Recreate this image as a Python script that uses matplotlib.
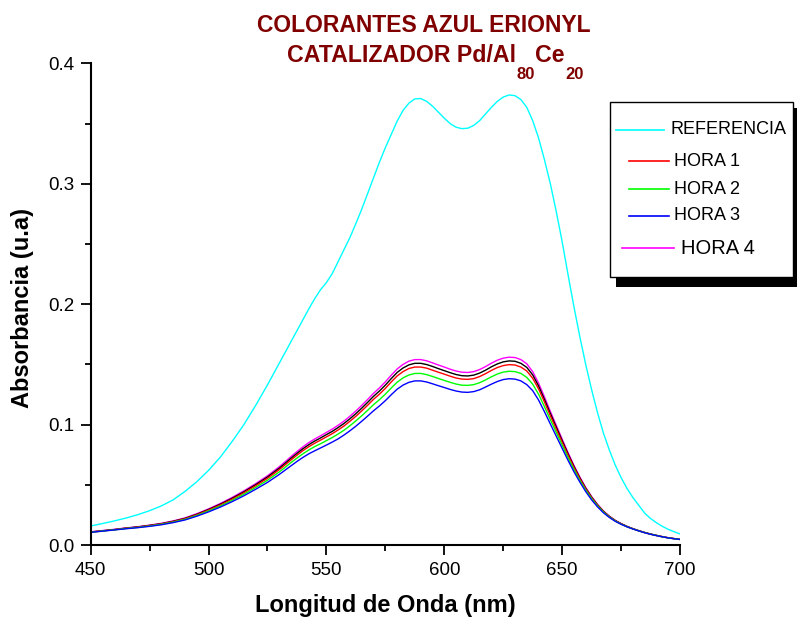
# Espectros UV-Vis del colorante azul erionyl con catalizador Pd/Al80Ce20

import matplotlib
matplotlib.use("Agg")
import matplotlib.pyplot as plt
import matplotlib.ticker as plticker
from matplotlib.lines import Line2D
from matplotlib.patches import Rectangle

plt.rcParams['font.family'] = ['Liberation Sans', 'DejaVu Sans']

# 450-525 cada 5 nm, 530-700 cada 2.5 nm
longitud = list(range(450, 530, 5)) + [x / 10 for x in range(5300, 7001, 25)]

referencia = [0.0158, 0.0178, 0.0200, 0.0224, 0.0252, 0.0285, 0.0325, 0.0375, 0.0445, 0.0525,
              0.0620, 0.0730, 0.0860, 0.1000, 0.1160, 0.1330,
              0.151, 0.160, 0.169, 0.178, 0.187, 0.196, 0.2045, 0.212, 0.218, 0.2255,
              0.2355, 0.2455, 0.2555, 0.267, 0.279, 0.292, 0.305, 0.318, 0.330, 0.341,
              0.352, 0.361, 0.367, 0.3705, 0.3708, 0.3685, 0.3645, 0.3595, 0.3545, 0.350,
              0.347, 0.3458, 0.3462, 0.3485, 0.3525, 0.358, 0.3635, 0.3685, 0.372, 0.3738,
              0.3732, 0.370, 0.3635, 0.3525, 0.338, 0.320, 0.300, 0.277, 0.252, 0.2245,
              0.198, 0.173, 0.150, 0.129, 0.110, 0.093, 0.079, 0.0665, 0.056, 0.047,
              0.0395, 0.033, 0.0265, 0.022, 0.0185, 0.0155, 0.013, 0.011, 0.0092]

hora4 = [0.0110, 0.0120, 0.0130, 0.0142, 0.0152, 0.0165, 0.0180, 0.0200, 0.0225, 0.0260,
         0.0300, 0.0345, 0.0395, 0.0450, 0.0510, 0.0575,
         0.0650, 0.0692, 0.0735, 0.0776, 0.0815, 0.0850, 0.0880, 0.0907, 0.0935, 0.0963,
         0.0995, 0.1030, 0.1070, 0.1113, 0.1160, 0.1209, 0.1260, 0.1305, 0.1355, 0.1410,
         0.1462, 0.1500, 0.1527, 0.1540, 0.1540, 0.1530, 0.1513, 0.1495, 0.1478, 0.1460,
         0.1445, 0.1435, 0.1433, 0.1440, 0.1457, 0.1482, 0.1510, 0.1535, 0.1552, 0.1560,
         0.1557, 0.1540, 0.1505, 0.1440, 0.1345, 0.1230, 0.1110, 0.0995, 0.0880, 0.0768,
         0.0662, 0.0565, 0.0478, 0.0402, 0.0337, 0.0283, 0.0240, 0.0205, 0.0178, 0.0155,
         0.0136, 0.0119, 0.0104, 0.0091, 0.0080, 0.0069, 0.0060, 0.0053, 0.0047]

sin_nombre = [0.0108, 0.0118, 0.0128, 0.0140, 0.0150, 0.0163, 0.0177, 0.0197, 0.0221, 0.0255,
              0.0295, 0.0339, 0.0388, 0.0442, 0.0501, 0.0565,
              0.0638, 0.0679, 0.0721, 0.0761, 0.0799, 0.0833, 0.0863, 0.0889, 0.0917, 0.0944,
              0.0976, 0.1010, 0.1049, 0.1091, 0.1137, 0.1185, 0.1235, 0.1279, 0.1328, 0.1382,
              0.1433, 0.1470, 0.1496, 0.1509, 0.1509, 0.1499, 0.1483, 0.1465, 0.1448, 0.1431,
              0.1416, 0.1406, 0.1404, 0.1411, 0.1428, 0.1452, 0.1480, 0.1504, 0.1521, 0.1529,
              0.1526, 0.1509, 0.1475, 0.1413, 0.1321, 0.1209, 0.1092, 0.0980, 0.0867, 0.0757,
              0.0653, 0.0558, 0.0472, 0.0398, 0.0334, 0.0280, 0.0238, 0.0204, 0.0177, 0.0154,
              0.0135, 0.0119, 0.0104, 0.0091, 0.0080, 0.0069, 0.0060, 0.0053, 0.0047]

hora1 = [0.0107, 0.0117, 0.0127, 0.0139, 0.0148, 0.0161, 0.0175, 0.0194, 0.0218, 0.0251,
         0.0290, 0.0333, 0.0381, 0.0434, 0.0492, 0.0554,
         0.0626, 0.0666, 0.0707, 0.0746, 0.0783, 0.0816, 0.0845, 0.0871, 0.0898, 0.0925,
         0.0956, 0.0989, 0.1028, 0.1069, 0.1114, 0.1161, 0.1210, 0.1253, 0.1301, 0.1354,
         0.1404, 0.1440, 0.1466, 0.1478, 0.1478, 0.1469, 0.1452, 0.1435, 0.1419, 0.1402,
         0.1387, 0.1378, 0.1376, 0.1382, 0.1399, 0.1423, 0.1450, 0.1474, 0.1490, 0.1498,
         0.1495, 0.1478, 0.1445, 0.1385, 0.1297, 0.1188, 0.1073, 0.0963, 0.0853, 0.0746,
         0.0644, 0.0550, 0.0466, 0.0393, 0.0330, 0.0278, 0.0236, 0.0202, 0.0176, 0.0153,
         0.0135, 0.0118, 0.0103, 0.0090, 0.0079, 0.0069, 0.0060, 0.0053, 0.0046]

hora2 = [0.0106, 0.0116, 0.0126, 0.0137, 0.0146, 0.0158, 0.0172, 0.0190, 0.0213, 0.0245,
         0.0283, 0.0324, 0.0371, 0.0422, 0.0478, 0.0538,
         0.0607, 0.0645, 0.0685, 0.0722, 0.0757, 0.0789, 0.0817, 0.0841, 0.0867, 0.0893,
         0.0922, 0.0954, 0.0991, 0.1031, 0.1074, 0.1119, 0.1166, 0.1207, 0.1253, 0.1304,
         0.1352, 0.1388, 0.1412, 0.1425, 0.1425, 0.1415, 0.1400, 0.1383, 0.1367, 0.1351,
         0.1337, 0.1327, 0.1326, 0.1332, 0.1348, 0.1371, 0.1397, 0.1420, 0.1436, 0.1443,
         0.1440, 0.1425, 0.1392, 0.1336, 0.1252, 0.1149, 0.1041, 0.0936, 0.0830, 0.0726,
         0.0628, 0.0537, 0.0456, 0.0385, 0.0325, 0.0274, 0.0233, 0.0200, 0.0174, 0.0152,
         0.0134, 0.0118, 0.0103, 0.0090, 0.0079, 0.0068, 0.0059, 0.0052, 0.0046]

hora3 = [0.0105, 0.0115, 0.0125, 0.0135, 0.0144, 0.0155, 0.0168, 0.0186, 0.0208, 0.0239,
         0.0275, 0.0315, 0.0360, 0.0409, 0.0463, 0.0520,
         0.0586, 0.0622, 0.0658, 0.0694, 0.0727, 0.0757, 0.0782, 0.0806, 0.0830, 0.0855,
         0.0882, 0.0914, 0.0949, 0.0987, 0.1028, 0.1071, 0.1115, 0.1155, 0.1199, 0.1248,
         0.1294, 0.1328, 0.1351, 0.1363, 0.1363, 0.1354, 0.1339, 0.1323, 0.1308, 0.1292,
         0.1279, 0.1270, 0.1268, 0.1274, 0.1289, 0.1312, 0.1336, 0.1358, 0.1374, 0.1381,
         0.1378, 0.1363, 0.1332, 0.1282, 0.1204, 0.1107, 0.1005, 0.0904, 0.0803, 0.0703,
         0.0609, 0.0523, 0.0444, 0.0375, 0.0317, 0.0268, 0.0229, 0.0197, 0.0172, 0.0151,
         0.0133, 0.0117, 0.0102, 0.0089, 0.0078, 0.0068, 0.0059, 0.0052, 0.0046]

W, H = 797, 617
fig = plt.figure(figsize=(W / 100, H / 100), dpi=100)
ax = fig.add_axes([90.7 / W, 1 - 545 / H, (680 - 90.7) / W, (545 - 63.4) / H])

ax.plot(longitud, referencia, color='#00ffff', lw=1.0)
ax.plot(longitud, hora4, color='#ff00ff', lw=1.0)
ax.plot(longitud, sin_nombre, color='black', lw=1.0)
ax.plot(longitud, hora1, color='#ff0000', lw=1.0)
ax.plot(longitud, hora2, color='#00ff00', lw=1.0)
ax.plot(longitud, hora3, color='#0000ff', lw=1.0)

ax.set_xlim(450, 700)
ax.set_ylim(0, 0.4)
ax.xaxis.set_major_locator(plticker.MultipleLocator(50))
ax.xaxis.set_minor_locator(plticker.MultipleLocator(25))
ax.yaxis.set_major_locator(plticker.MultipleLocator(0.1))
ax.yaxis.set_minor_locator(plticker.MultipleLocator(0.05))
ax.yaxis.set_major_formatter(plticker.FormatStrFormatter('%.1f'))
ax.spines['top'].set_visible(False)
ax.spines['right'].set_visible(False)
for s in ('left', 'bottom'):
    ax.spines[s].set_linewidth(1.5)
ax.tick_params(which='major', direction='out', length=7, width=1.3, labelsize=13.5, pad=5)
ax.tick_params(which='minor', direction='out', length=4.5, width=1.3)

fig.text(385 / W, 1 - 611.7 / H, 'Longitud de Onda (nm)', ha='center', va='baseline',
         fontsize=17, fontweight='bold')
fig.text(23 / W, 1 - 308 / H, 'Absorbancia (u.a)', ha='center', va='center',
         rotation=90, fontsize=17, fontweight='bold')

# titulo
rojo = '#800000'
fig.text(424 / W, 1 - 31.7 / H, 'COLORANTES AZUL ERIONYL', ha='center', va='baseline',
         fontsize=16.5, fontweight='bold', color=rojo)
t1 = fig.text(287 / W, 1 - 61.7 / H, 'CATALIZADOR Pd/Al', ha='left', va='baseline',
              fontsize=16.7, fontweight='bold', color=rojo)
t2 = ax.annotate('80', xy=(1, 0), xycoords=t1, xytext=(0.3, -9), textcoords='offset points',
                 ha='left', va='baseline', fontsize=12, fontweight='bold', color=rojo,
                 annotation_clip=False)
t3 = ax.annotate('Ce', xy=(1, 0), xycoords=(t2, t1), xytext=(0.3, 3.6),
                 textcoords='offset points', ha='left', va='baseline', fontsize=16.7,
                 fontweight='bold', color=rojo, annotation_clip=False)
ax.annotate('20', xy=(1, 0), xycoords=(t3, t1), xytext=(0.3, -9), textcoords='offset points',
            ha='left', va='baseline', fontsize=12, fontweight='bold', color=rojo,
            annotation_clip=False)

# leyenda con sombra
def fx(px):
    return px / W

def fy(py):
    return 1 - py / H

fig.add_artist(Rectangle((fx(616), fy(287)), fx(797) - fx(616), fy(108) - fy(287),
                         transform=fig.transFigure, facecolor='black', edgecolor='none'))
fig.add_artist(Rectangle((fx(610), fy(277)), fx(793) - fx(610), fy(102) - fy(277),
                         transform=fig.transFigure, facecolor='white', edgecolor='black', lw=1.0))

entradas = [('REFERENCIA', '#00ffff', 616, 664, 130, 671, 13),
            ('HORA 1', '#ff0000', 629, 669, 161, 674, 13),
            ('HORA 2', '#00ff00', 629, 669, 189, 674, 13),
            ('HORA 3', '#0000ff', 629, 669, 216, 674, 13),
            ('HORA 4', '#ff00ff', 622, 674, 248, 681, 14.5)]
for txt, col, x0, x1, yy, xt, fs in entradas:
    fig.add_artist(Line2D([fx(x0), fx(x1)], [fy(yy), fy(yy)], transform=fig.transFigure,
                          color=col, lw=1.2))
    fig.text(fx(xt), fy(yy), txt, ha='left', va='center', fontsize=fs)

plt.savefig('out.png', dpi=100)
